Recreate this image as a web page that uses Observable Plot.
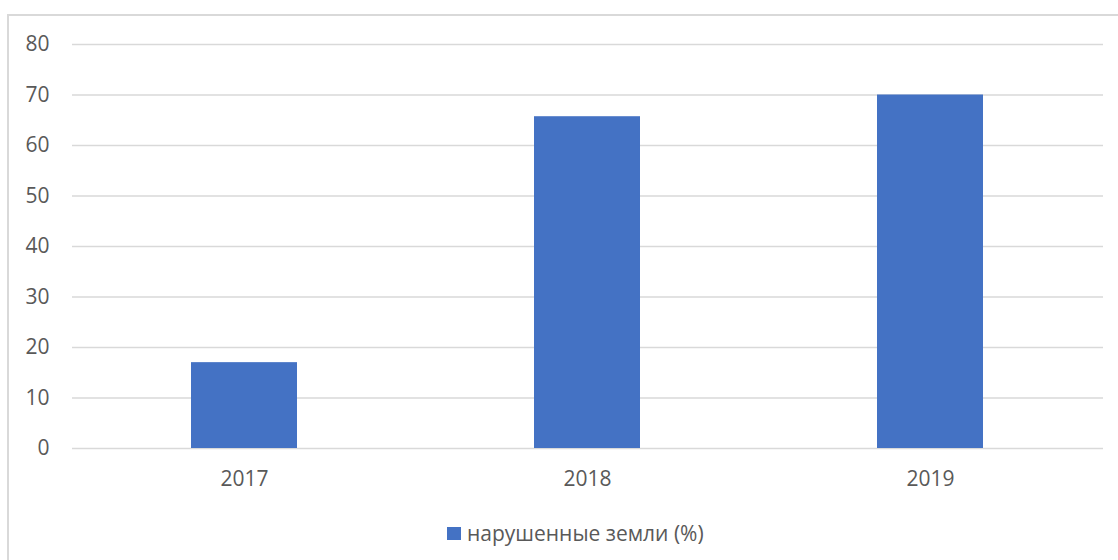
<!DOCTYPE html>
<html>
<head>
<meta charset="utf-8">
<script src="https://cdn.jsdelivr.net/npm/d3@7"></script>
<script src="https://cdn.jsdelivr.net/npm/@observablehq/plot@0.6"></script>
<style>
  html, body { margin: 0; padding: 0; background: #fff; }
  body { width: 1118px; height: 560px; position: relative; overflow: hidden; font-family: "Open Sans", sans-serif; }
  #frame { position: absolute; left: 7px; top: 14px; width: 1130px; height: 560px; border: 2px solid #d9d9d9; box-sizing: border-box; }
  #chart { position: absolute; left: 0; top: 0; }
  #legend { position: absolute; left: 447px; top: 519px; display: flex; align-items: center; color: #595959; font-size: 21px; font-family: "Open Sans", sans-serif; }
  #legend .sw { width: 14px; height: 13px; background: #4472C4; margin-right: 6px; }
</style>
</head>
<body>
<div id="frame"></div>
<div id="chart"></div>
<div id="legend"><span class="sw"></span><span>нарушенные земли (%)</span></div>
<script>
const years = ["2017", "2018", "2019"];
const values = [17, 65.7, 70];
const yTicks = [0, 10, 20, 30, 40, 50, 60, 70, 80];
const seriesName = "нарушенные земли (%)";

const data = years.map((y, i) => ({year: y, value: values[i]}));

const chart = Plot.plot({
  width: 1118,
  height: 500,
  marginLeft: 72,
  marginRight: 15,
  marginTop: 44,
  marginBottom: 52,
  style: {fontFamily: "Open Sans, sans-serif", fontSize: "21px", color: "#595959", background: "transparent"},
  x: {domain: years, paddingInner: 0.69, paddingOuter: 0.345, label: null},
  y: {domain: [0, 80], label: null},
  marks: [
    Plot.gridY(yTicks, {stroke: "#d9d9d9", strokeOpacity: 1, strokeWidth: 1.5}),
    Plot.barY(data, {x: "year", y: "value", fill: "#4472C4"}),
    Plot.axisX({tickSize: 0, tickPadding: 23, label: null, fontSize: 21}),
    Plot.axisY(yTicks, {tickSize: 0, tickPadding: 23, label: null, fontSize: 21})
  ]
});
document.getElementById("chart").appendChild(chart);
</script>
</body>
</html>
